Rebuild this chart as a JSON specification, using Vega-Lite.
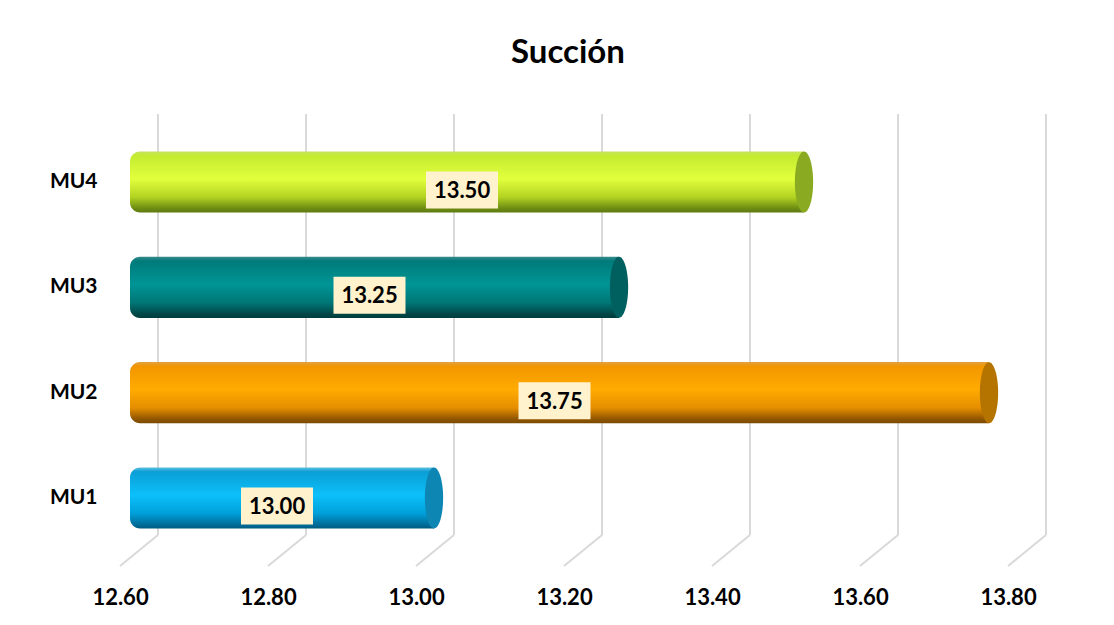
{
  "$schema": "https://vega.github.io/schema/vega-lite/v6.json",
  "width": 888,
  "height": 452,
  "autosize": "none",
  "padding": {"left": 138, "top": 114, "right": 88, "bottom": 59},
  "background": "#ffffff",
  "title": {"text": "Succión", "font": "Lato", "fontSize": 33, "fontWeight": "bold", "color": "#000000", "anchor": "middle", "frame": "group", "dx": -14, "offset": 17, "baseline": "alphabetic"},
  "config": {
    "view": {"stroke": null},
    "axis": {"grid": false, "domain": false, "ticks": false, "title": null, "labelFont": "Lato", "labelFontWeight": "bold", "labelFontSize": 22, "labelColor": "#000000", "labelFlush": false, "labelBound": false, "labelOverlap": false},
    "axisX": {"labelOffset": -38, "tickOffset": 20, "labelPadding": 21},
    "axisY": {"labelPadding": 41, "labelFontSize": 21}
  },
  "datasets": {
    "bars": [
      {"cat": "MU1", "value": 13.00},
      {"cat": "MU2", "value": 13.75},
      {"cat": "MU3", "value": 13.25},
      {"cat": "MU4", "value": 13.50}
    ],
    "ticks": [
      {"v": 12.6}, {"v": 12.8}, {"v": 13.0}, {"v": 13.2}, {"v": 13.4}, {"v": 13.6}, {"v": 13.8}
    ]
  },
  "resolve": {"scale": {"y": "independent"}, "axis": {"y": "independent"}},
  "layer": [
    {
      "data": {"name": "ticks"},
      "layer": [
        {
          "mark": {"type": "rule", "color": "#d9d9d9", "strokeWidth": 2, "xOffset": 20},
          "encoding": {
            "x": {"field": "v", "type": "quantitative", "scale": {"domain": [12.6, 13.8], "zero": false, "nice": false}, "axis": {"values": [12.6, 12.8, 13.0, 13.2, 13.4, 13.6, 13.8], "format": ".2f", "title": null}},
            "y": {"datum": 1, "type": "quantitative", "scale": {"domain": [0, 1], "nice": false, "zero": false}, "axis": null},
            "y2": {"datum": 0.0686}
          }
        },
        {
          "mark": {"type": "rule", "color": "#d9d9d9", "strokeWidth": 2, "xOffset": 20, "x2Offset": -18},
          "encoding": {
            "x": {"field": "v", "type": "quantitative", "axis": {"values": [12.6, 12.8, 13.0, 13.2, 13.4, 13.6, 13.8], "format": ".2f", "title": null}},
            "x2": {"field": "v"},
            "y": {"datum": 0.0686, "type": "quantitative", "axis": null},
            "y2": {"datum": 0}
          }
        }
      ]
    },
    {
      "data": {"name": "bars"},
      "encoding": {
        "y": {"field": "cat", "type": "nominal", "sort": ["MU4", "MU3", "MU2", "MU1"], "scale": {"paddingInner": 0.42, "paddingOuter": 0.356, "align": 0.5}, "axis": {"title": null}},
        "x": {"field": "value", "type": "quantitative", "axis": {"values": [12.6, 12.8, 13.0, 13.2, 13.4, 13.6, 13.8], "format": ".2f", "title": null}}
      },
      "layer": [
        {
          "transform": [{"filter": "datum.cat == 'MU1'"}],
          "mark": {"type": "bar", "x2Offset": -8, "cornerRadiusTopLeft": 10, "cornerRadiusBottomLeft": 10,
            "fill": {"gradient": "linear", "x1": 0, "y1": 0, "x2": 0, "y2": 1, "stops": [
              {"offset": 0, "color": "#5fc0e0"}, {"offset": 0.07, "color": "#0b9ed6"}, {"offset": 0.45, "color": "#0cc0fa"}, {"offset": 0.75, "color": "#00a0da"}, {"offset": 0.93, "color": "#006e9c"}, {"offset": 1, "color": "#005a80"}]}},
          "encoding": {"x2": {"datum": 12.6}}
        },
        {
          "transform": [{"filter": "datum.cat == 'MU2'"}],
          "mark": {"type": "bar", "x2Offset": -8, "cornerRadiusTopLeft": 10, "cornerRadiusBottomLeft": 10,
            "fill": {"gradient": "linear", "x1": 0, "y1": 0, "x2": 0, "y2": 1, "stops": [
              {"offset": 0, "color": "#e0a040"}, {"offset": 0.07, "color": "#f29600"}, {"offset": 0.45, "color": "#ffab00"}, {"offset": 0.75, "color": "#e58e00"}, {"offset": 0.93, "color": "#915600"}, {"offset": 1, "color": "#7a4a00"}]}},
          "encoding": {"x2": {"datum": 12.6}}
        },
        {
          "transform": [{"filter": "datum.cat == 'MU3'"}],
          "mark": {"type": "bar", "x2Offset": -8, "cornerRadiusTopLeft": 10, "cornerRadiusBottomLeft": 10,
            "fill": {"gradient": "linear", "x1": 0, "y1": 0, "x2": 0, "y2": 1, "stops": [
              {"offset": 0, "color": "#3a8a8a"}, {"offset": 0.07, "color": "#007a7a"}, {"offset": 0.45, "color": "#009595"}, {"offset": 0.75, "color": "#007676"}, {"offset": 0.93, "color": "#004848"}, {"offset": 1, "color": "#003c3c"}]}},
          "encoding": {"x2": {"datum": 12.6}}
        },
        {
          "transform": [{"filter": "datum.cat == 'MU4'"}],
          "mark": {"type": "bar", "x2Offset": -8, "cornerRadiusTopLeft": 10, "cornerRadiusBottomLeft": 10,
            "fill": {"gradient": "linear", "x1": 0, "y1": 0, "x2": 0, "y2": 1, "stops": [
              {"offset": 0, "color": "#c6e260"}, {"offset": 0.07, "color": "#c4ec30"}, {"offset": 0.45, "color": "#e2ff3c"}, {"offset": 0.75, "color": "#b2d222"}, {"offset": 0.93, "color": "#6d8c12"}, {"offset": 1, "color": "#5e7a10"}]}},
          "encoding": {"x2": {"datum": 12.6}}
        },
        {
          "mark": {"type": "point", "filled": true, "opacity": 1, "strokeWidth": 0, "size": 3721, "shape": "M 0 -1 A 0.3 1 0 1 1 0 1 A 0.3 1 0 1 1 0 -1 Z"},
          "encoding": {
            "fill": {"field": "cat", "type": "nominal", "scale": {"domain": ["MU1", "MU2", "MU3", "MU4"], "range": ["#0e86b4", "#b57300", "#005f5f", "#8aaa22"]}, "legend": null}
          }
        },
        {
          "transform": [{"calculate": "(datum.value + 12.6) / 2", "as": "mid"}],
          "mark": {"type": "point", "filled": true, "opacity": 1, "strokeWidth": 0, "size": 5184, "fill": "#fff2cc", "xOffset": -9, "yOffset": 8, "shape": "M -1 -0.514 L 1 -0.514 L 1 0.514 L -1 0.514 Z"},
          "encoding": {"x": {"field": "mid", "type": "quantitative", "axis": {"values": [12.6, 12.8, 13.0, 13.2, 13.4, 13.6, 13.8], "format": ".2f", "title": null}}}
        },
        {
          "transform": [{"calculate": "(datum.value + 12.6) / 2", "as": "mid"}],
          "mark": {"type": "text", "font": "Lato", "fontWeight": "bold", "fontSize": 22, "color": "#000000", "align": "center", "baseline": "middle", "xOffset": -9, "yOffset": 9},
          "encoding": {
            "x": {"field": "mid", "type": "quantitative", "axis": {"values": [12.6, 12.8, 13.0, 13.2, 13.4, 13.6, 13.8], "format": ".2f", "title": null}},
            "text": {"field": "value", "type": "quantitative", "format": ".2f"}
          }
        }
      ]
    }
  ]
}
